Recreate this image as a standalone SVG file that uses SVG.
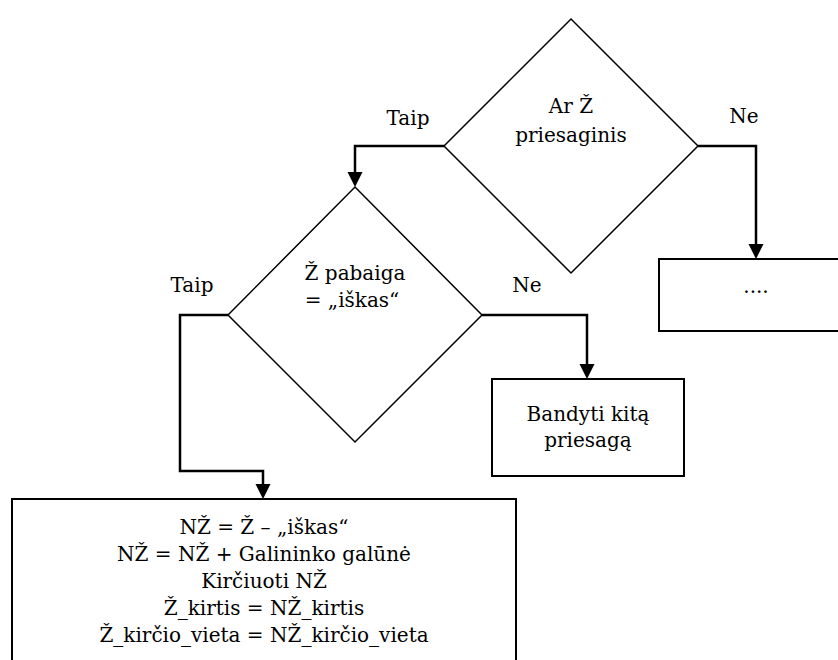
<svg xmlns="http://www.w3.org/2000/svg" width="838" height="660" viewBox="0 0 838 660">
<style>
  .shape { fill: #ffffff; stroke: #000000; }
  .dia { stroke-width: 1.5; }
  .box { stroke-width: 2; }
  .conn { fill: none; stroke: #000000; stroke-width: 2.5; }
  .t { font-family: "DejaVu Serif", "Liberation Serif", serif; font-size: 20px; fill: #000000; text-anchor: middle; }
</style>
<defs>
  <marker id="arrow" markerUnits="userSpaceOnUse" markerWidth="16" markerHeight="16" refX="1" refY="7.5" orient="auto">
    <path d="M0,0 L15,7.5 L0,15 Z" fill="#000000"/>
  </marker>
</defs>
<rect width="838" height="660" fill="#ffffff"/>

<g id="connectors">
  <path class="conn" d="M444,146 H355 V173" marker-end="url(#arrow)"/>
  <path class="conn" d="M698,146 H756 V245" marker-end="url(#arrow)"/>
  <path class="conn" d="M228,315 H180 V471 H263 V485" marker-end="url(#arrow)"/>
  <path class="conn" d="M482,315 H587 V365" marker-end="url(#arrow)"/>
  <text x="408" y="125" class="t">Taip</text>
  <text x="744" y="123" class="t">Ne</text>
  <text x="192" y="292" class="t">Taip</text>
  <text x="527" y="292" class="t">Ne</text>
</g>

<g id="decision1">
  <polygon class="shape dia" points="571,19 698,146 571,273 444,146"/>
  <text x="571" y="113" class="t">Ar Ž</text>
  <text x="571" y="142" class="t">priesaginis</text>
</g>

<g id="decision2">
  <polygon class="shape dia" points="355,187 482,315 355,442 228,315"/>
  <text x="355" y="280" class="t">Ž pabaiga</text>
  <text x="352" y="307" class="t">= „iškas“</text>
</g>

<g id="other">
  <rect class="shape box" x="659" y="259" width="200" height="72"/>
  <text x="756" y="293" class="t">....</text>
</g>

<g id="try-other">
  <rect class="shape box" x="492" y="379" width="192" height="97"/>
  <text x="588" y="421" class="t">Bandyti kitą</text>
  <text x="588" y="447" class="t">priesagą</text>
</g>

<g id="process">
  <rect class="shape box" x="12" y="499" width="504" height="200"/>
  <text x="264" y="534" class="t">NŽ = Ž – „iškas“</text>
  <text x="264" y="561" class="t">NŽ = NŽ + Galininko galūnė</text>
  <text x="264" y="588" class="t">Kirčiuoti NŽ</text>
  <text x="264" y="615" class="t">Ž_kirtis = NŽ_kirtis</text>
  <text x="264" y="642" class="t">Ž_kirčio_vieta = NŽ_kirčio_vieta</text>
</g>
</svg>
